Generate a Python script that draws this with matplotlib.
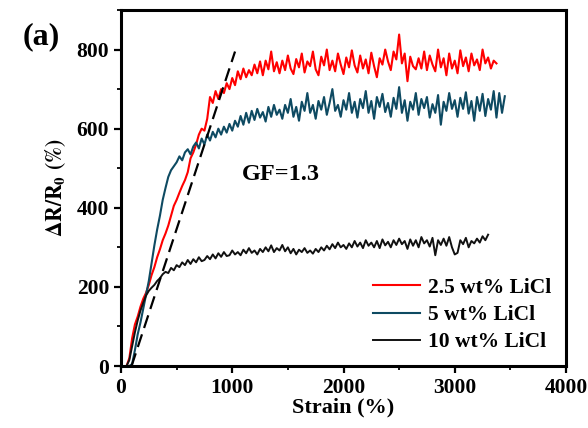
import numpy as np
import matplotlib
matplotlib.use('Agg')
import matplotlib.pyplot as plt
from matplotlib.ticker import MultipleLocator

plt.rcParams['font.family'] = ['Liberation Serif', 'DejaVu Serif']
plt.rcParams['font.weight'] = 'bold'
plt.rcParams['mathtext.fontset'] = 'stix'

# strain sampled every 25 %
STEP = 25

# 2.5 wt% LiCl, starts at 50 %
red_y = [0, 20, 70, 105, 125, 150, 170, 185, 205, 230,
         250, 275, 295, 318, 335, 355, 380, 405, 420, 438,
         455, 470, 490, 525, 540, 560, 585, 600, 595, 625,
         680, 665, 695, 675, 700, 690, 715, 700, 728, 710,
         745, 725, 752, 730, 748, 735, 762, 740, 770, 735,
         772, 750, 795, 745, 768, 740, 772, 748, 785, 752,
         738, 776, 755, 790, 742, 770, 758, 795, 750, 735,
         782, 760, 800, 748, 772, 745, 790, 762, 738, 780,
         755, 798, 760, 742, 785, 752, 775, 740, 792, 758,
         730, 778, 762, 800, 770, 748, 795, 775, 838, 765,
         790, 720, 782, 758, 750, 778, 752, 795, 748, 785,
         762, 745, 800, 755, 778, 735, 790, 752, 772, 740,
         798, 758, 780, 745, 790, 760, 775, 748, 800, 765,
         780, 752, 772, 765]

# 5 wt% LiCl, starts at 75 %
teal_y = [0, 5, 40, 80, 110, 145, 180, 215, 260, 305,
          345, 380, 420, 450, 478, 495, 505, 515, 530, 520,
          540, 548, 535, 555, 565, 550, 575, 560, 585, 570,
          592, 578, 600, 585, 605, 590, 612, 595, 620, 605,
          632, 610, 640, 615, 645, 622, 650, 628, 642, 618,
          655, 630, 660, 635, 648, 625, 660, 640, 675, 630,
          655, 620, 668, 645, 690, 640, 660, 625, 670, 648,
          680, 635, 665, 700, 645, 660, 630, 672, 648, 690,
          640, 668, 628, 675, 652, 695, 640, 670, 625, 680,
          655, 688, 642, 665, 630, 678, 650, 705, 640, 672,
          620, 668, 648, 690, 635, 675, 652, 680, 628, 662,
          640, 685, 610, 668, 645, 690, 650, 672, 630, 678,
          650, 692, 638, 670, 620, 680, 645, 688, 632, 675,
          648, 695, 628, 690, 640, 682]

# 10 wt% LiCl, starts at 50 %
black_y = [0, 15, 50, 85, 115, 140, 160, 178, 190, 198,
           205, 215, 222, 232, 238, 235, 248, 242, 255, 250,
           262, 255, 268, 258, 270, 262, 275, 265, 268, 278,
           270, 282, 272, 285, 276, 288, 278, 280, 292, 282,
           288, 280, 294, 285, 298, 286, 292, 282, 296, 288,
           300, 290, 305, 288, 298, 292, 306, 290, 300, 285,
           296, 282, 294, 288, 298, 286, 292, 284, 296, 288,
           300, 292, 304, 295, 308, 298, 312, 300, 306, 296,
           310, 300, 316, 302, 312, 298, 318, 304, 312, 300,
           316, 298, 320, 305, 314, 300, 318, 306, 322, 308,
           316, 296, 320, 304, 318, 300, 326, 310, 318, 302,
           324, 280, 318, 306, 322, 304, 326, 300, 282, 286,
           318, 308, 324, 300, 316, 310, 322, 312, 328, 318,
           332]

red_x = 50 + STEP * np.arange(len(red_y))
teal_x = 75 + STEP * np.arange(len(teal_y))
black_x = 50 + STEP * np.arange(len(black_y))

# linear fit guide, GF = 1.3
fit_x = [95, 1025]
fit_y = [0, 795]

labels = ['2.5 wt% LiCl', '5 wt% LiCl', '10 wt% LiCl']

fig = plt.figure(figsize=(5.88, 4.28), dpi=100)
ax = fig.add_axes([121/588, 62/428, 445/588, 356/428])

ax.plot(red_x, red_y, color='#ff0000', lw=1.5, label=labels[0])
ax.plot(teal_x, teal_y, color='#0e4a62', lw=1.5, label=labels[1])
ax.plot(black_x, black_y, color='#111111', lw=1.4, label=labels[2])
ax.plot(fit_x, fit_y, color='black', lw=1.6, ls=(0, (6, 3)))

ax.text(1090, 484, 'GF=1.3', fontsize=17.5, fontweight='bold', va='center')

ax.set_xlim(0, 4000)
ax.set_ylim(0, 900)
ax.xaxis.set_major_locator(MultipleLocator(1000))
ax.xaxis.set_minor_locator(MultipleLocator(500))
ax.yaxis.set_major_locator(MultipleLocator(200))
ax.yaxis.set_minor_locator(MultipleLocator(100))
ax.tick_params(which='major', direction='out', length=5, width=1.6, labelsize=15.5)
ax.tick_params(which='minor', direction='out', length=3, width=1.3)
for sp in ax.spines.values():
    sp.set_linewidth(2.2)

ax.set_xlabel('Strain (%)', fontsize=16, fontweight='bold')
ax.set_ylabel(r'$\mathbf{\Delta R/R_0\ (\%)}$', fontsize=15.5)
ax.xaxis.set_label_coords(0.5, -0.088)
ax.yaxis.set_label_coords(-0.12, 0.5)

leg = ax.legend(loc='lower right', bbox_to_anchor=(1.01, -0.016), frameon=False,
                fontsize=15.5, handlelength=2.2, handletextpad=0.35, labelspacing=0.33)

fig.text(23/588, 1 - 37/428, '(a)', fontsize=23, fontweight='bold', va='center', ha='left')

fig.savefig('out.png', dpi=100, facecolor='white')
